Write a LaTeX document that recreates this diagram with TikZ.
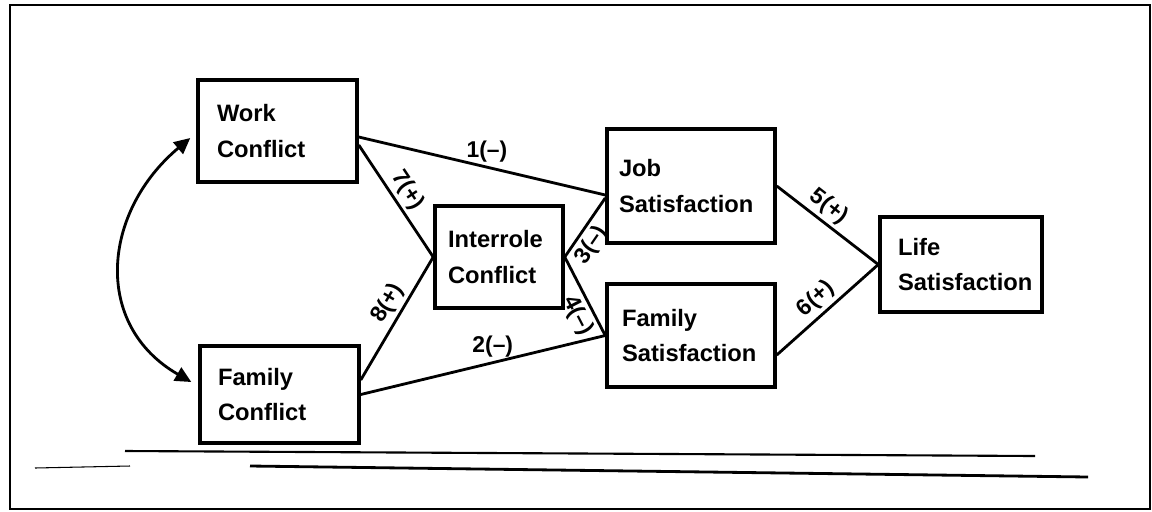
\documentclass[tikz,border=0pt]{standalone}
\usepackage{fontspec}
\setmainfont{Liberation Sans}
\usetikzlibrary{arrows.meta}

\begin{document}
\begin{tikzpicture}[x=0.02cm, y=-0.02cm,
    box/.style={draw=black, line width=2pt, rectangle, align=left, inner ysep=0pt,
      font=\fontsize{13.5}{20}\selectfont\bfseries},
    path/.style={draw=black, line width=1.6pt},
    weight/.style={font=\fontsize{13}{15}\selectfont\bfseries, inner sep=2pt}]
\useasboundingbox (0,0) rectangle (1152,511);
\draw[line width=0.8pt] (10,5) rectangle (1150,509);
\node[box, text width=2.42cm, inner xsep=0.38cm, minimum height=2.04cm] (G1NWork) at (277.5,131) {Work\\Conflict};
\node[box, text width=2.46cm, inner xsep=0.36cm, minimum height=1.94cm] (G1NFamily) at (279.5,394.5) {Family\\Conflict};
\node[box, text width=2.04cm, inner xsep=0.26cm, minimum height=2.04cm] (G1NInterrole) at (499,257) {Interrole\\Conflict};
\node[box, text width=2.88cm, inner xsep=0.24cm, minimum height=2.28cm] (G1NJob) at (691,186) {Job\\Satisfaction};
\node[box, text width=2.76cm, inner xsep=0.30cm, minimum height=2.06cm] (G1NFamSat) at (691,335.5) {\raisebox{-5pt}{Family}\\\raisebox{-5pt}{Satisfaction}};
\node[box, text width=2.52cm, inner xsep=0.36cm, minimum height=1.90cm] (G1NLife) at (961,264.5) {Life\\Satisfaction};
\draw[path, {Triangle[length=3.2mm,width=3mm]}-{Triangle[length=3.2mm,width=3mm]}] ([xshift=-0.12cm,yshift=-0.14cm]G1NWork.west) to[out=220, in=150, looseness=1.2] ([xshift=-0.14cm,yshift=0.25cm]G1NFamily.west);
\draw[path] ([yshift=-0.12cm]G1NWork.east) -- ([yshift=-0.18cm]G1NJob.west) node[weight, pos=0.52, above] {1(--)};
\draw[path] ([yshift=-0.28cm]G1NWork.east) -- (G1NInterrole.west) node[weight, pos=0.48, sloped, above] {7(+)};
\draw[path] ([yshift=0.29cm]G1NFamily.east) -- (G1NInterrole.west) node[weight, pos=0.56, sloped, above] {8(+)};
\draw[path] (G1NFamily.east) -- (G1NFamSat.west) node[weight, pos=0.54, above] {2(--)};
\draw[path] (G1NInterrole.east) -- ([yshift=-0.24cm]G1NJob.west) node[weight, pos=0.35, sloped, below] {3(--)};
\draw[path] (G1NInterrole.east) -- (G1NFamSat.west) node[weight, pos=0.66, sloped, below] {4(--)};
\draw[path] (G1NJob.east) -- (G1NLife.west) node[weight, pos=0.42, sloped, above] {5(+)};
\draw[path] ([yshift=-0.39cm]G1NFamSat.east) -- (G1NLife.west) node[weight, pos=0.49, sloped, above] {6(+)};
\draw[line width=1.2pt] (125,451) -- (1035,456);
\draw[line width=0.6pt] (35,468) -- (130,466);
\draw[line width=1.6pt] (250,466) -- (1088,477);
\end{tikzpicture}
\end{document}
